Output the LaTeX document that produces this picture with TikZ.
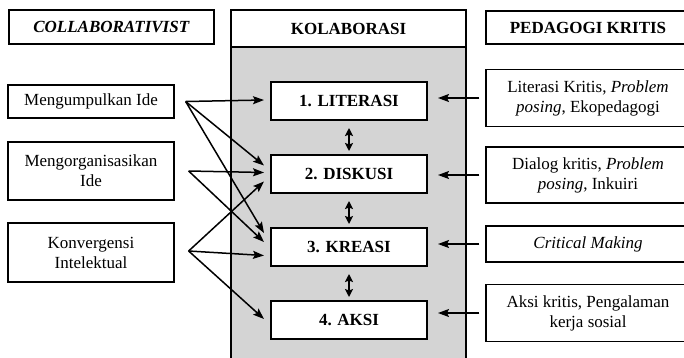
\documentclass[tikz,border=0pt]{standalone}
\usepackage{fontspec}
\setmainfont{Liberation Serif}
\usetikzlibrary{arrows.meta, positioning}
\definecolor{panelgray}{RGB}{212, 212, 212}
\tikzset{
	sidebox/.style={rectangle, draw=black, line width=1.3pt, fill=white, align=center, inner sep=0pt, font=\fontsize{17}{20}\selectfont},
	headbox/.style={sidebox, font=\fontsize{17}{20}\selectfont\bfseries},
	stagebox/.style={rectangle, draw=black, line width=2pt, fill=white, align=center, inner sep=0pt, minimum width=156pt, minimum height=38pt, font=\fontsize{17}{20}\selectfont\bfseries},
	panel/.style={rectangle, draw=black, line width=2pt, fill=panelgray, inner sep=0pt},
	arrow/.style={-{Stealth[length=11pt, width=8pt, inset=2pt]}, line width=1.5pt},
	dblarrow/.style={{Stealth[length=8pt, width=8pt, inset=1.5pt]}-{Stealth[length=8pt, width=8pt, inset=1.5pt]}, line width=2pt},
}

\begin{document}
\begin{tikzpicture}[x=1pt, y=-1pt, node distance=33pt]
		\useasboundingbox (0,0) rectangle (684,357);
		% middle column
		\node[panel, minimum width=235pt, minimum height=320pt] (panel) at (348.5,207) {};
		\node[headbox, line width=2pt, minimum width=235pt, minimum height=37pt] (kolab) at (348.5,28.5) {KOLABORASI};
		\node[stagebox] (lit) at (349,101) {1. LITERASI};
		\node[stagebox, below=of lit] (dis) {2. DISKUSI};
		\node[stagebox, below=of dis] (kre) {3. KREASI};
		\node[stagebox, below=of kre] (aks) {4. AKSI};
		% left column
		\node[headbox, minimum width=205pt, minimum height=34pt] (collab) at (111.5,27) {\textit{COLLABORATIVIST}};
		\node[sidebox, minimum width=166pt, minimum height=33pt] (um) at (91,101.5) {Mengumpulkan Ide};
		\node[sidebox, minimum width=166pt, minimum height=58pt] (mo) at (91,171) {Mengorganisasikan\\Ide};
		\node[sidebox, minimum width=166pt, minimum height=59pt] (kv) at (91,252.5) {Konvergensi\\Intelektual};
		% right column
		\node[headbox, minimum width=204pt, minimum height=33pt] (pk) at (588,27.5) {PEDAGOGI KRITIS};
		\node[sidebox, minimum width=204pt, minimum height=57pt] (lk) at (588,98) {Literasi Kritis, \textit{Problem}\\\textit{posing}, Ekopedagogi};
		\node[sidebox, minimum width=204pt, minimum height=56pt] (dk) at (588,175) {Dialog kritis, \textit{Problem}\\\textit{posing}, Inkuiri};
		\node[sidebox, minimum width=204pt, minimum height=36pt] (cm) at (588,244) {\textit{Critical Making}};
		\node[sidebox, minimum width=204pt, minimum height=57pt] (ak) at (588,313) {Aksi kritis, Pengalaman\\kerja sosial};
		\coordinate (um-out) at ([xshift=11pt]um.east);
		\coordinate (mo-out) at ([xshift=14pt]mo.east);
		\coordinate (kv-out) at ([xshift=14pt,yshift=1.5pt]kv.east);
		% left arrows
		\draw[arrow] (um-out) -- ([xshift=-6pt,yshift=1pt]lit.west);
		\draw[arrow] (um-out) -- ([xshift=-6pt,yshift=8.5pt]dis.west);
		\draw[arrow] (um-out) -- ([xshift=-6pt,yshift=14pt]kre.west);
		\draw[arrow] (mo-out) -- ([xshift=-6pt,yshift=1.5pt]dis.west);
		\draw[arrow] (mo-out) -- ([xshift=-6pt,yshift=5pt]kre.west);
		\draw[arrow] (kv-out) -- ([xshift=-6pt,yshift=-7.5pt]dis.west);
		\draw[arrow] (kv-out) -- ([xshift=-6pt,yshift=-8.5pt]kre.west);
		\draw[arrow] (kv-out) -- ([xshift=-6pt,yshift=1pt]aks.west);
		% right arrows
		\draw[arrow, shorten <=6pt, shorten >=10pt] (lk.west) -- (lk.west -| lit.east);
		\draw[arrow, shorten <=6pt, shorten >=10pt] (dk.west) -- (dk.west -| dis.east);
		\draw[arrow, shorten <=6pt, shorten >=10pt] (cm.west) -- (cm.west -| kre.east);
		\draw[arrow, shorten <=6pt, shorten >=10pt] (ak.west) -- (ak.west -| aks.east);
		% between stages
		\draw[dblarrow, shorten <=7pt, shorten >=3pt] (lit) -- (dis);
		\draw[dblarrow, shorten <=7pt, shorten >=3pt] (dis) -- (kre);
		\draw[dblarrow, shorten <=7pt, shorten >=3pt] (kre) -- (aks);
	\end{tikzpicture}
\end{document}
